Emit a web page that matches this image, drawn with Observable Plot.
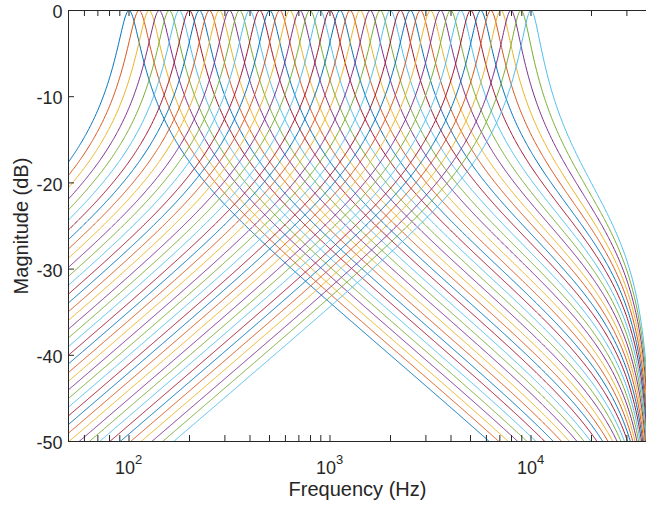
<!DOCTYPE html>
<html><head><meta charset="utf-8">
<script src="https://cdn.jsdelivr.net/npm/d3@7"></script>
<script src="https://cdn.jsdelivr.net/npm/@observablehq/plot@0.6"></script>
<style>html,body{margin:0;padding:0;background:#fff;overflow:hidden}</style>
</head><body><div id="chart"></div>
<script>
// Peak (centre) frequencies of the 41 band-pass filters (Hz)
const centerFrequenciesHz = [100, 112.2, 125.9, 141.3, 158.5, 177.8, 199.5, 223.9, 251.2, 281.8,
  316.2, 354.8, 398.1, 446.7, 501.2, 562.3, 631.0, 707.9, 794.3, 891.3,
  1000, 1122, 1259, 1413, 1585, 1778, 1995, 2239, 2512, 2818,
  3162, 3548, 3981, 4467, 5012, 5623, 6310, 7079, 7943, 8913, 10000];
// Filter parameters estimated from the curve widths and the roll-off at the right edge
const qualityFactor = 5;
const sampleRateHz = 80000;
const lineColors = ["#0072BD", "#D95319", "#EDB120", "#7E2F8E", "#77AC30", "#4DBEEE", "#A2142F"];
const yTicks = [0, -10, -20, -30, -40, -50];
const xMajorTicks = [100, 1000, 10000];
const xMajorExponents = ["2", "3", "4"];
const xMinorTicks = [60, 70, 80, 90, 200, 300, 400, 500, 600, 700, 800, 900,
  2000, 3000, 4000, 5000, 6000, 7000, 8000, 9000, 20000, 30000];
const xDomain = [50, 40000];
const yDomain = [-50, 0];

// Evaluation frequencies (x sampling of each response curve)
const nyq = sampleRateHz / 2;
const evalFreqs = d3.range(0, 1.0000001, 1 / 900).map(t => 50 * Math.pow((nyq * 0.9997) / 50, t));

function magnitudeDb(f, fc) {
  const w0 = 2 * Math.PI * fc / sampleRateHz;
  const alpha = Math.sin(w0) / (2 * qualityFactor);
  const w = 2 * Math.PI * f / sampleRateHz;
  const num = 2 * alpha * Math.abs(Math.sin(w));
  const re = (1 + alpha) - 2 * Math.cos(w0) * Math.cos(w) + (1 - alpha) * Math.cos(2 * w);
  const im = 2 * Math.cos(w0) * Math.sin(w) - (1 - alpha) * Math.sin(2 * w);
  return 20 * Math.log10(num / Math.hypot(re, im));
}

const rows = [];
centerFrequenciesHz.forEach((fc, band) => {
  for (const f of evalFreqs) rows.push({band, f, db: Math.max(-120, magnitudeDb(f, fc))});
});

const allXTicks = xMajorTicks.concat(xMinorTicks);
const axisColor = "#262626";
const font = "Liberation Sans, Arial, Helvetica, sans-serif";
const tickPx = 6;
const pxPerDb = (441 - 10) / 50;
const tickDb = tickPx / pxPerDb;

const chart = Plot.plot({
  width: 646,
  height: 508,
  marginLeft: 68,
  marginRight: 0,
  marginTop: 10,
  marginBottom: 67,
  style: {fontFamily: font, background: "#fff"},
  x: {type: "log", domain: xDomain, range: [68, 651.5], axis: null},
  y: {domain: yDomain, axis: null},
  color: {type: "ordinal", domain: d3.range(centerFrequenciesHz.length),
          range: centerFrequenciesHz.map((_, i) => lineColors[i % lineColors.length])},
  marks: [
    Plot.line(rows, {x: "f", y: "db", z: "band", stroke: "band", strokeWidth: 1, clip: true}),
    // axis lines (left, bottom, top)
    Plot.ruleX([xDomain[0]], {y1: -50, y2: 0, stroke: axisColor, strokeWidth: 1}),
    Plot.ruleY([0, -50], {stroke: axisColor, strokeWidth: 1}),
    // inward ticks
    Plot.ruleY(yTicks, {x1: xDomain[0], x2: xDomain[0] * Math.pow(10, tickPx / 201), stroke: axisColor}),
    Plot.ruleX(allXTicks, {y1: -50, y2: -50 + tickDb, stroke: axisColor}),
    Plot.ruleX(allXTicks, {y1: 0, y2: -tickDb, stroke: axisColor}),
    // y tick labels
    Plot.text(yTicks, {x: xDomain[0], y: d => d, text: d => String(d), dx: -6, dy: 2,
      textAnchor: "end", fontSize: 18, fill: axisColor}),
    // x tick labels 10^n
    Plot.text(xMajorTicks, {x: d => d, y: -50, text: () => "10", dx: 6, dy: 32,
      textAnchor: "end", lineAnchor: "bottom", fontSize: 18, fill: axisColor}),
    Plot.text(xMajorTicks, {x: d => d, y: -50, text: (d, i) => xMajorExponents[i], dx: 6, dy: 22,
      textAnchor: "start", lineAnchor: "bottom", fontSize: 13, fill: axisColor}),
    // axis titles
    Plot.text(["Frequency (Hz)"], {frameAnchor: "bottom", dy: 54, lineAnchor: "bottom",
      textAnchor: "middle", fontSize: 20, fill: axisColor}),
    Plot.text(["Magnitude (dB)"], {frameAnchor: "left", dx: -47, rotate: -90,
      textAnchor: "middle", fontSize: 20, fill: axisColor})
  ]
});
document.getElementById("chart").appendChild(chart);
</script>
</body></html>
